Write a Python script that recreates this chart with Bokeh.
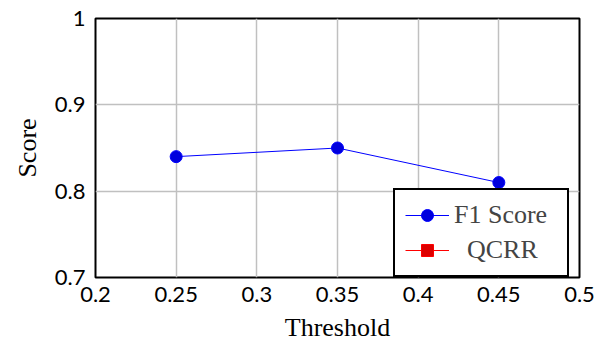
import math
from bokeh.plotting import figure
from bokeh.models import Range1d, FixedTicker, Legend, LegendItem
from bokeh.embed import file_html
from bokeh.resources import INLINE

thresholds = [0.25, 0.35, 0.45]
f1_score = [0.84, 0.85, 0.81]
# QCRR: no points are visible inside the plotted range (values unknown)
qcrr = [math.nan, math.nan, math.nan]

x_ticks = [0.2, 0.25, 0.3, 0.35, 0.4, 0.45, 0.5]
y_ticks = [0.7, 0.8, 0.9, 1.0]
y_tick_labels = {0.7: "0.7", 0.8: "0.8", 0.9: "0.9", 1.0: "1"}
x_tick_labels = {0.2: "0.2", 0.25: "0.25", 0.3: "0.3", 0.35: "0.35", 0.4: "0.4", 0.45: "0.45", 0.5: "0.5"}
x_title = "Threshold"
y_title = "Score"

p = figure(width=610, height=345, output_backend="svg", toolbar_location=None,
           x_range=Range1d(0.2, 0.5), y_range=Range1d(0.7, 1.0),
           min_border_left=95, min_border_right=31, min_border_top=18, min_border_bottom=68)
p.background_fill_color = "white"
p.border_fill_color = "white"
p.outline_line_color = "black"
p.outline_line_width = 2
p.outline_line_alpha = 1.0

for ax in (p.xaxis[0], p.yaxis[0]):
    ax.axis_line_color = None
    ax.major_tick_line_color = None
    ax.minor_tick_line_color = None
    ax.major_tick_out = 0
    ax.major_tick_in = 0
    ax.major_label_text_font = "Lato"
    ax.major_label_text_font_size = "22px"
    ax.major_label_text_color = "black"
    ax.axis_label_text_font = "Liberation Serif"
    ax.axis_label_text_font_size = "26px"
    ax.axis_label_text_font_style = "normal"
    ax.axis_label_text_color = "black"

p.xaxis.ticker = FixedTicker(ticks=x_ticks)
p.yaxis.ticker = FixedTicker(ticks=y_ticks)
p.xaxis.major_label_overrides = x_tick_labels
p.yaxis.major_label_overrides = y_tick_labels
p.xaxis.axis_label = x_title
p.yaxis.axis_label = y_title
p.xaxis.major_label_standoff = 9
p.yaxis.major_label_standoff = 10
p.xaxis.axis_label_standoff = 8
p.yaxis.axis_label_standoff = 10

p.xgrid.ticker = FixedTicker(ticks=x_ticks)
p.ygrid.ticker = FixedTicker(ticks=y_ticks)
p.grid.grid_line_color = "#c0c0c0"
p.grid.grid_line_width = 1.5

f1_line = p.line(thresholds, f1_score, line_color="#0000ff", line_width=1)
f1_mark = p.scatter(thresholds, f1_score, marker="circle", size=12,
                    fill_color="#0000dd", line_color="#0000ff", line_width=1)
q_line = p.line(thresholds, qcrr, line_color="#ff0000", line_width=1)
q_mark = p.scatter(thresholds, qcrr, marker="square", size=12,
                   fill_color="#dd0000", line_color="#ff0000", line_width=1)

legend = Legend(items=[LegendItem(label="F1 Score", renderers=[f1_line, f1_mark]),
                       LegendItem(label="\u00a0\u00a0QCRR", renderers=[q_line, q_mark])],
                location=(298, 0), margin=0, padding=10, spacing=5,
                glyph_width=44, glyph_height=30, label_height=30, label_width=103,
                label_standoff=5,
                label_text_font="Liberation Serif", label_text_font_size="26px",
                border_line_color="black", border_line_width=2, border_line_alpha=1.0,
                background_fill_color="white", background_fill_alpha=1.0)
p.add_layout(legend, "center")

open("out.html", "w").write(file_html(p, INLINE))
